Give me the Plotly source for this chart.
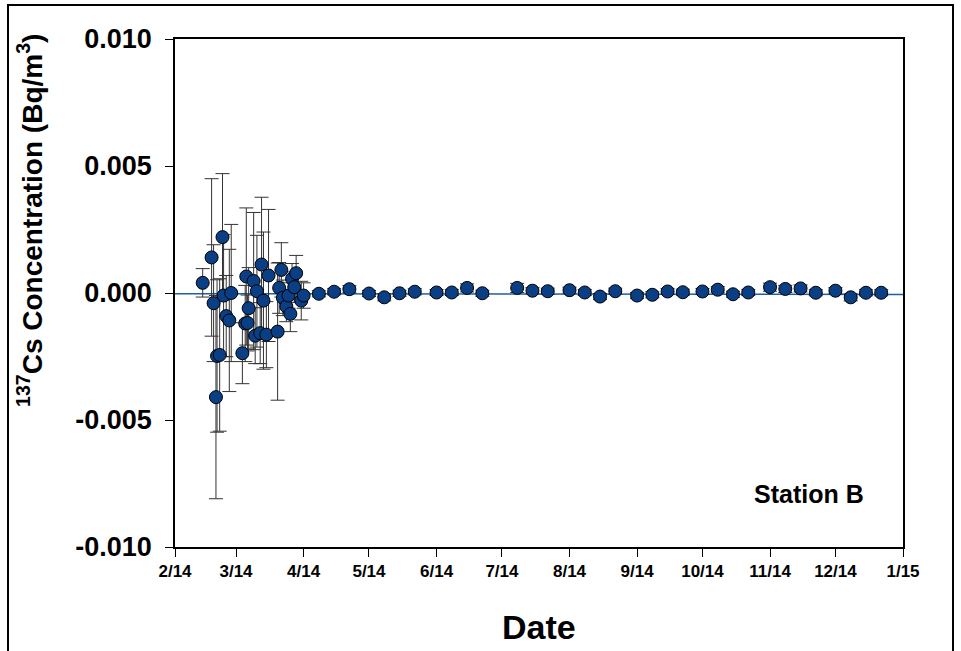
import plotly.graph_objects as go

# Sampling dates (collection times) for Station B
dates = [
    "2014-02-13 17:00", "2014-02-17 19:00", "2014-02-18 17:00", "2014-02-19 19:00",
    "2014-02-20 07:00", "2014-02-21 12:00", "2014-02-22 19:00", "2014-02-23 07:00",
    "2014-02-24 12:00", "2014-02-25 22:00", "2014-02-26 19:00", "2014-03-03 22:00",
    "2014-03-05 05:00", "2014-03-05 17:00", "2014-03-06 07:00", "2014-03-06 19:00",
    "2014-03-09 02:00", "2014-03-09 19:00", "2014-03-10 14:00", "2014-03-12 02:00",
    "2014-03-12 17:00", "2014-03-13 14:00", "2014-03-14 22:00", "2014-03-15 22:00",
    "2014-03-20 02:00", "2014-03-20 19:00", "2014-03-21 19:00", "2014-03-22 12:00",
    "2014-03-24 02:00", "2014-03-25 02:00", "2014-03-25 22:00", "2014-03-26 17:00",
    "2014-03-27 17:00", "2014-03-28 14:00", "2014-03-30 22:00", "2014-04-01",
    "2014-04-08", "2014-04-15", "2014-04-22", "2014-05-01", "2014-05-08", "2014-05-15",
    "2014-05-22", "2014-06-01", "2014-06-08", "2014-06-15", "2014-06-22", "2014-07-08",
    "2014-07-15", "2014-07-22", "2014-08-01", "2014-08-08", "2014-08-15", "2014-08-22",
    "2014-09-01", "2014-09-08", "2014-09-15", "2014-09-22", "2014-10-01", "2014-10-08",
    "2014-10-15", "2014-10-22", "2014-11-01", "2014-11-08", "2014-11-15", "2014-11-22",
    "2014-12-01", "2014-12-08", "2014-12-15", "2014-12-22",
]

# 137Cs concentration (Bq/m3)
conc = [
    0.0004, 0.0014, -0.0004, -0.0041, -0.00248, -0.00244, 0.0022, -0.0001,
    -0.00091, -0.00108, 0.0, -0.00237, -0.0012, 0.00065, -0.00118, -0.0006,
    0.00047, -0.00168, 0.00007, -0.00158, 0.00112, -0.0003, -0.00164, 0.00069,
    -0.00152, 0.0002, 0.00091, -0.00019, -0.00053, -0.0001, -0.00082, 0.00056,
    0.00023, 0.00078, -0.0003, -0.0001,
    -0.00003, 0.00005, 0.00015, -0.00002, -0.00017, -0.00001, 0.00005, 0.00002,
    0.00002, 0.0002, -0.00001, 0.0002, 0.00009, 0.00007, 0.00011, 0.00002,
    -0.00014, 0.00007, -0.0001, -0.00007, 0.00006, 0.00003, 0.00006, 0.00013,
    -0.00005, 0.00002, 0.00023, 0.00016, 0.00018, 0.00001, 0.00009, -0.00017,
    0.00001, 0.00001,
]

# Uncertainty (Bq/m3)
err = [
    0.00056, 0.0031, 0.0023, 0.004, 0.003, 0.003, 0.0025, 0.0024,
    0.0016, 0.0028, 0.0027, 0.0012, 0.0015, 0.0027, 0.0011, 0.0016,
    0.0027, 0.0011, 0.0022, 0.0012, 0.00265, 0.0027, 0.0013, 0.0026,
    0.0027, 0.001, 0.00107, 0.0007, 0.0006, 0.0005, 0.0007, 0.0006,
    0.0006, 0.0007, 0.00076, 0.0005,
    0.00012, 0.00012, 0.00014, 0.00012, 0.00014, 0.00012, 0.00012, 0.00012,
    0.00012, 0.00016, 0.00012, 0.00018, 0.00012, 0.00012, 0.00012, 0.00012,
    0.00012, 0.00012, 0.00012, 0.00012, 0.00012, 0.00012, 0.00012, 0.00012,
    0.00012, 0.00012, 0.00016, 0.00014, 0.00014, 0.00012, 0.00012, 0.00014,
    0.00012, 0.00012,
]

# Reference (fit) line
line_x = ["2014-02-01", "2015-01-01"]
line_y = [-0.00003, -0.00006]

x_tickvals = ["2014-02-01", "2014-03-01", "2014-04-01", "2014-05-01", "2014-06-01",
              "2014-07-01", "2014-08-01", "2014-09-01", "2014-10-01", "2014-11-01",
              "2014-12-01", "2015-01-01"]
x_ticktext = ["2/14", "3/14", "4/14", "5/14", "6/14", "7/14", "8/14", "9/14",
              "10/14", "11/14", "12/14", "1/15"]
y_tickvals = [-0.010, -0.005, 0.0, 0.005, 0.010]
y_ticktext = ["-0.010", "-0.005", "0.000", "0.005", "0.010"]

FONT = "Liberation Sans, Arial, sans-serif"

fig = go.Figure()
fig.add_trace(go.Scatter(
    x=line_x, y=line_y, mode="lines",
    line=dict(color="#1f5fa8", width=1.5), hoverinfo="skip", showlegend=False,
))
fig.add_trace(go.Scatter(
    x=dates, y=conc, mode="markers",
    marker=dict(size=13, color="#0a3f86", line=dict(color="black", width=1)),
    error_y=dict(type="data", array=err, visible=True, color="#333333",
                 thickness=1, width=7),
    showlegend=False,
))

fig.update_layout(
    width=961, height=651,
    margin=dict(l=175, r=58, t=39, b=104),
    paper_bgcolor="white", plot_bgcolor="white",
    font=dict(family=FONT, color="black"),
    xaxis=dict(
        range=["2014-02-01", "2015-01-01"],
        tickvals=x_tickvals, ticktext=x_ticktext,
        ticks="outside", ticklen=8, tickwidth=1, tickcolor="black",
        showline=True, linecolor="black", linewidth=1.5, mirror=True,
        showgrid=False, zeroline=False,
        tickfont=dict(family=FONT, size=17, color="black", weight="bold"),
    ),
    yaxis=dict(
        range=[-0.010, 0.010],
        tickvals=y_tickvals, ticktext=y_ticktext,
        ticks="outside", ticklen=8, tickwidth=1, tickcolor="black",
        showline=True, linecolor="black", linewidth=1.5, mirror=True,
        showgrid=False, zeroline=False, ticklabelstandoff=8,
        tickfont=dict(family=FONT, size=27, color="black", weight="bold"),
    ),
    annotations=[
        dict(text="<sup>137</sup>Cs Concentration (Bq/m<sup>3</sup>)",
             xref="paper", yref="paper", x=-0.199, y=0.642,
             xanchor="center", yanchor="middle", textangle=-90, showarrow=False,
             font=dict(family=FONT, size=28, color="black", weight="bold")),
        dict(text="Date", xref="paper", yref="paper", x=0.5, y=-0.157,
             xanchor="center", yanchor="middle", showarrow=False,
             font=dict(family=FONT, size=34, color="black", weight="bold")),
        dict(text="Station B", xref="paper", yref="paper", x=0.871, y=0.104,
             xanchor="center", yanchor="middle", showarrow=False,
             font=dict(family=FONT, size=25, color="black", weight="bold")),
    ],
    shapes=[
        dict(type="rect", xref="paper", yref="paper",
             x0=-0.2294, x1=1.0687, y0=-0.25, y1=1.067,
             line=dict(color="black", width=2), fillcolor="rgba(0,0,0,0)", layer="below"),
    ],
)

fig.write_html("out.html")
